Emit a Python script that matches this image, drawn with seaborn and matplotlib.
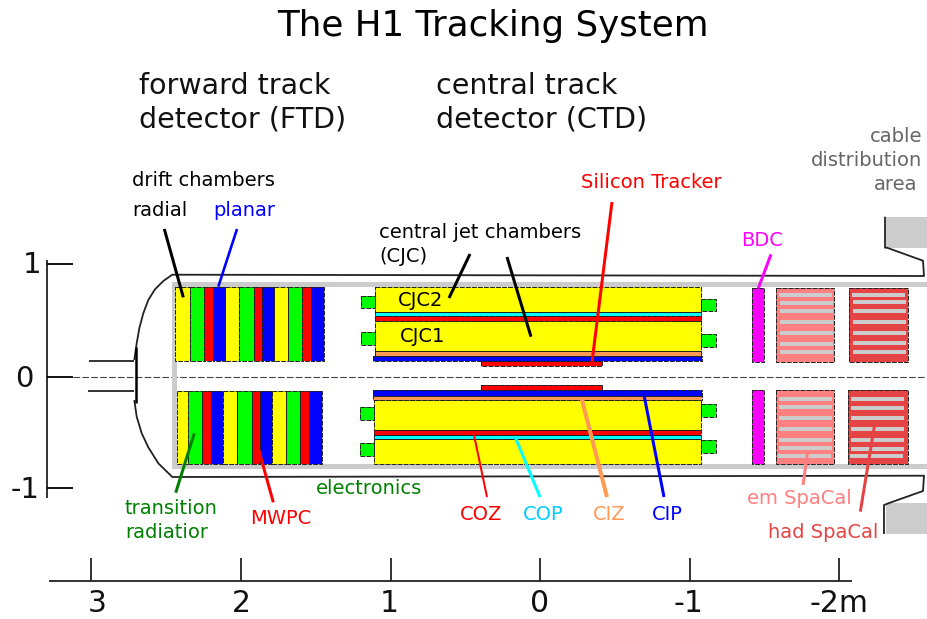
import matplotlib
matplotlib.use('Agg')
import matplotlib.pyplot as plt
import seaborn as sns
from matplotlib.patches import Rectangle

sns.set_theme(style='white')
plt.rcParams['font.family'] = ['DejaVu Sans']

# colores
YELLOW, GREEN, RED, BLUE = '#ffff00', '#00ff00', '#ff0000', '#0000ff'
CYAN, ORANGE, MAGENTA = '#00ffff', '#ff9955', '#ff00ff'
EM, HAD, GREY, DARKGREEN = '#ff8080', '#e64444', '#cccccc', '#008000'
INK = '#222222'

# todo va en pixeles de la imagen original
ftd_colors = [YELLOW, GREEN, RED, BLUE] * 3
ftd_top_edges = [175.3, 189.7, 204.3, 212.7, 224.7, 239.3, 254, 262.3, 274.3, 288, 302.3, 310.7, 323.7]
ftd_bot_edges = [177, 187.7, 202.3, 210.7, 223, 237.3, 252, 260.3, 272.3, 286.3, 300.3, 308.7, 321.7]
ftd_top_y = (287, 360.7)
ftd_bot_y = (390.7, 463.7)

# capas del CTD: x0, x1, y0, y1, color
ctd_layers = [
    (374.7, 701.3, 287.3, 312, YELLOW),
    (374.7, 701.3, 312, 316.3, CYAN),
    (374.7, 701.3, 316.3, 321, RED),
    (374.7, 701.3, 321, 351, YELLOW),
    (374.7, 701.3, 351, 356, ORANGE),
    (373.3, 702, 356, 361.3, BLUE),
    (481.3, 601.7, 361.3, 366.3, RED),
    (480.7, 601.7, 385.3, 390.3, RED),
    (372.7, 702, 390.3, 395.7, BLUE),
    (372.7, 702, 395.7, 400, ORANGE),
    (373.7, 701, 400, 430.3, YELLOW),
    (373.7, 701, 430.3, 435.3, RED),
    (373.7, 701, 435.3, 439.3, CYAN),
    (373.7, 701, 439.3, 463.7, YELLOW),
]
electronics = [
    (360.7, 374.7, 296, 308.3), (360.7, 374.7, 332.3, 345),
    (701.5, 715.7, 299, 311.3), (701.5, 715.7, 334.3, 347.3),
    (360, 373.7, 406.7, 419.7), (360, 373.7, 443.3, 455.7),
    (701, 715.7, 404.3, 417), (701, 715.7, 440.3, 452.7),
]
spacal_boxes = [
    (752.3, 764, 288, 361.7, MAGENTA), (751.7, 763.7, 390, 463.7, MAGENTA),
    (776.3, 834.3, 288, 361.7, EM), (775.7, 833.7, 390, 463.7, EM),
    (849.3, 908.3, 288, 361.7, HAD), (848.3, 907.7, 390, 463.7, HAD),
]
# laminas grises: x0, x1, centro y
slats = [
    (779, 832, 295), (780, 833, 303), (780, 833, 311), (780, 833, 322),
    (780, 833, 333), (780, 833, 344), (780, 833, 351.7),
    (852, 905, 295), (853, 906, 302), (853, 906, 311), (853, 906, 322),
    (853, 906, 333), (853, 906, 342.7), (853, 906, 351.7),
    (779, 832, 399), (779, 832, 407), (779, 832, 418), (779, 832, 429),
    (779, 832, 440), (779, 832, 448), (778, 831, 456),
    (851, 904, 399), (851, 904, 408), (851, 904, 418), (851, 904, 429),
    (851, 904, 440), (851, 904, 449), (850, 903, 456),
]
grey_blocks = [
    (172, 927, 281.7, 287), (172, 177, 282, 469), (172, 927, 464, 469),
    (886, 927, 217, 247.5), (886, 927, 503, 533.7),
]

# contorno del tanque
tank_top_x = [134.3, 136.7, 139.3, 143.3, 148.3, 155, 163.3, 172.3, 924, 923, 887, 885, 885]
tank_top_y = [360, 343.3, 328.3, 313.3, 300, 289.3, 281, 274.7, 276, 260.7, 247.7, 247.7, 216.7]
tank_bot_x = [134.3, 136.7, 141.7, 148.3, 158.3, 172.3, 924, 923, 890, 884, 884]
tank_bot_y = [400, 416.7, 433.3, 447.3, 463.3, 477, 475.7, 491, 502.7, 505, 534]

# flechas: x, y, color, grosor
leaders = [
    ([164.3, 183.3], [229, 297.3], 'black', 3),
    ([237, 218.3], [229, 286.7], BLUE, 2.6),
    ([194.3, 175.7], [433.3, 492.7], DARKGREEN, 3),
    ([258.3, 273.3], [448.3, 502.3], RED, 3),
    ([470, 449], [254, 298], 'black', 3),
    ([507, 531], [257, 336.7], 'black', 3),
    ([612, 592], [202, 362], RED, 3),
    ([771, 758.3], [254.3, 288.3], MAGENTA, 3),
    ([807.3, 803], [454, 485], EM, 3),
    ([874.3, 860.3], [426.7, 511.7], HAD, 3),
    ([474, 487], [435, 497], RED, 2),
    ([515.7, 540], [438.3, 497], CYAN, 3),
    ([581.7, 607], [399, 497], ORANGE, 4),
    ([644, 664], [395, 497], BLUE, 3),
]

axis_y_ticks = [264, 376.7, 488.3]
axis_y_labels = ['1', '0', '-1']
axis_y_label_pos = [(41, 273), (34, 387), (40, 498)]
axis_x_ticks = [90.7, 240.7, 391, 540.3, 689.7, 839.3]
axis_x_labels = ['3', '2', '1', '0', '-1', '-2m']
axis_x_label_pos = [97, 241, 389, 539.5, 688.5, 839]


fig = plt.figure(figsize=(9.27, 6.19), dpi=100)
ax = fig.add_axes([0, 0, 1, 1])


def caja(x0, x1, y0, y1, color, borde=True):
    ax.add_patch(Rectangle((x0, y0), x1 - x0, y1 - y0, facecolor=color, edgecolor='none', zorder=2))
    if borde:
        ax.add_patch(Rectangle((x0, y0), x1 - x0, y1 - y0, facecolor='none', edgecolor='#222222',
                               linewidth=0.7, linestyle=(0, (5, 1.2)), zorder=3))


def linea(xs, ys, color=INK, lw=1.3, z=4, ls='-'):
    sns.lineplot(x=xs, y=ys, sort=False, estimator=None, color=color, linewidth=lw,
                 linestyle=ls, solid_capstyle='butt', zorder=z, ax=ax)


for x0, x1, y0, y1 in grey_blocks:
    caja(x0, x1, y0, y1, GREY, borde=False)

for edges, (y0, y1) in [(ftd_top_edges, ftd_top_y), (ftd_bot_edges, ftd_bot_y)]:
    for i, c in enumerate(ftd_colors):
        caja(edges[i], edges[i + 1], y0, y1, c)

for x0, x1, y0, y1, c in ctd_layers:
    caja(x0, x1, y0, y1, c)
for x0, x1, y0, y1 in electronics:
    caja(x0, x1, y0, y1, GREEN)
for x0, x1, y0, y1, c in spacal_boxes:
    caja(x0, x1, y0, y1, c)
for x0, x1, yc in slats:
    ax.add_patch(Rectangle((x0, yc - 2.1), x1 - x0, 4.2, facecolor=GREY, edgecolor='none', zorder=3.5))

linea(tank_top_x, tank_top_y)
linea(tank_bot_x, tank_bot_y)
linea([89.3, 134.3], [360.7, 360.7])
linea([88, 134], [390.7, 390.7])
linea([135.7, 135.7], [347, 403], color='black', lw=1.8)
linea([73, 927], [377, 377], color='#444444', lw=0.8, z=1.5, ls=(0, (6, 2)))

linea([47.3, 47.3], [260, 497.7])
for yt, lab, (xl, yl) in zip(axis_y_ticks, axis_y_labels, axis_y_label_pos):
    linea([47.3, 73], [yt, yt], color='black')
    ax.text(xl, yl, lab, fontsize=21, ha='right', va='baseline', color='#111111')
linea([49, 851.7], [581.3, 581.3])
for xt in axis_x_ticks:
    linea([xt, xt], [558.3, 581.3])
for xl, lab in zip(axis_x_label_pos, axis_x_labels):
    ax.text(xl, 611.5, lab, fontsize=21.5, ha='center', va='baseline', color='#111111')

for xs, ys, c, w in leaders:
    linea(xs, ys, color=c, lw=w * 0.72, z=5)

ax.text(493, 26, 'The H1 Tracking System', fontsize=25.7, ha='center', va='center', color='black')
ax.text(139, 102.5, 'forward track\ndetector (FTD)', fontsize=20.5, ha='left', va='center', color='#111111', linespacing=1.27)
ax.text(436, 102.5, 'central track\ndetector (CTD)', fontsize=20.5, ha='left', va='center', color='#111111', linespacing=1.27)

etiquetas = [
    (132, 181, 'drift chambers', 'black', 'left'),
    (132, 210, 'radial', 'black', 'left'),
    (213, 210, 'planar', BLUE, 'left'),
    (379, 233, 'central jet chambers', 'black', 'left'),
    (379, 257, '(CJC)', 'black', 'left'),
    (398, 301, 'CJC2', 'black', 'left'),
    (400, 337, 'CJC1', 'black', 'left'),
    (581, 182, 'Silicon Tracker', RED, 'left'),
    (741, 241, 'BDC', MAGENTA, 'left'),
    (125, 509, 'transition', DARKGREEN, 'left'),
    (125, 533, 'radiatior', DARKGREEN, 'left'),
    (250, 518, 'MWPC', RED, 'left'),
    (316, 488, 'electronics', DARKGREEN, 'left'),
    (460, 514, 'COZ', RED, 'left'),
    (523, 514, 'COP', '#00ccff', 'left'),
    (593, 514, 'CIZ', ORANGE, 'left'),
    (652, 514, 'CIP', BLUE, 'left'),
    (747, 498, 'em SpaCal', EM, 'left'),
    (768, 532, 'had SpaCal', HAD, 'left'),
    (922, 136, 'cable', '#666666', 'right'),
    (922, 160, 'distribution', '#666666', 'right'),
    (917, 184, 'area', '#666666', 'right'),
]
for x, y, txt, c, ha in etiquetas:
    ax.text(x, y, txt, fontsize=14, ha=ha, va='center', color=c, zorder=6)

ax.set_xlim(0, 927)
ax.set_ylim(619, 0)
ax.axis('off')
fig.savefig('out.png', dpi=100, facecolor='white')
